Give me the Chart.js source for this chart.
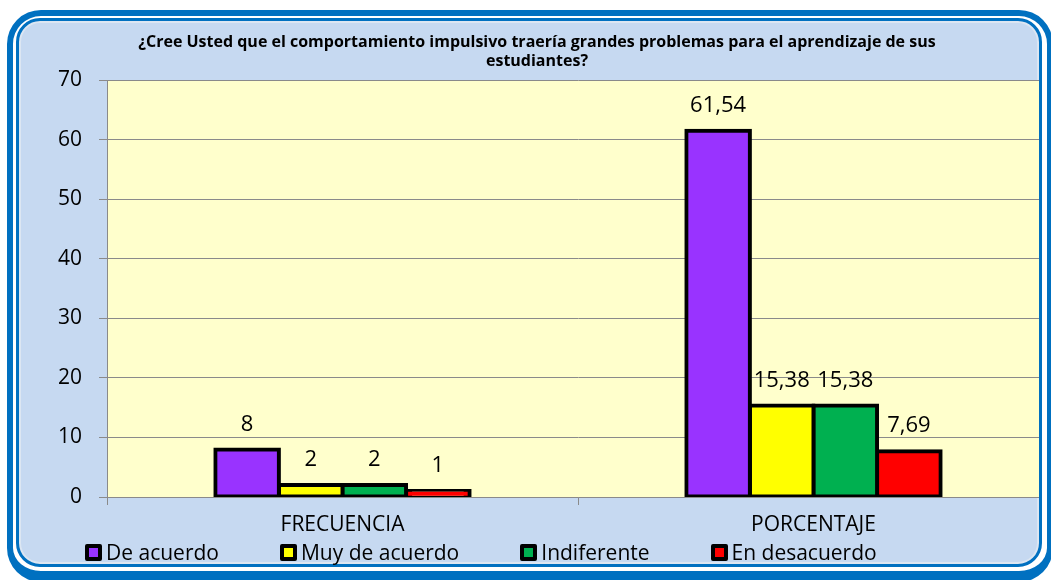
<!DOCTYPE html>
<html lang="es">
<head>
<meta charset="utf-8">
<title>Comportamiento impulsivo</title>
<script src="https://cdn.jsdelivr.net/npm/chart.js@4.4.1/dist/chart.umd.min.js"></script>
<style>
    html, body {
        margin: 0;
        padding: 0;
        background: #ffffff;
        overflow: hidden;
        width: 1051px;
        height: 580px;
        font-family: "Open Sans", "Noto Sans", sans-serif;
    }
    #frame {
        position: absolute;
        left: 7px;
        top: 10px;
        width: 1046px;
        height: 572px;
        border: 6px solid #0070C0;
        border-bottom-width: 11px;
        border-radius: 34px;
        box-sizing: border-box;
    }
    #inner {
        position: absolute;
        left: 16px;
        top: 18px;
        width: 1026px;
        height: 549px;
        border: 3px solid #0070C0;
        border-radius: 24px;
        box-sizing: border-box;
        background: #C6D9F1;
        box-shadow: inset 0 0 0 2px #DCE6F2;
    }
    #chartBox {
        position: absolute;
        left: 19px;
        top: 21px;
        width: 1020px;
        height: 541px;
        overflow: hidden;
    }
    #chartWrap {
        position: relative;
        width: 1030px;
        height: 541px;
    }
    #legend {
        position: absolute;
        left: 85px;
        top: 540px;
        height: 24px;
        display: flex;
        align-items: center;
        font-size: 21px;
        color: #000;
    }
    .legend-item {
        display: flex;
        align-items: center;
        margin-right: 61px;
    }
    .legend-box {
        width: 9px;
        height: 9px;
        border: 4px solid #000;
        border-radius: 2px;
        margin-right: 4px;
    }
</style>
</head>
<body>
<div id="frame"></div>
<div id="inner"></div>
<div id="chartBox"><div id="chartWrap"><canvas id="chart"></canvas></div></div>
<div id="legend"></div>

<script>
// Chart data
const categories = ['FRECUENCIA', 'PORCENTAJE'];
const seriesNames = ['De acuerdo', 'Muy de acuerdo', 'Indiferente', 'En desacuerdo'];
const deAcuerdo = [8, 61.54];
const muyDeAcuerdo = [2, 15.38];
const indiferente = [2, 15.38];
const enDesacuerdo = [1, 7.69];
const yTicks = [0, 10, 20, 30, 40, 50, 60, 70];
const titleLines = [
    '¿Cree Usted que el comportamiento impulsivo traería grandes problemas para el aprendizaje de sus',
    'estudiantes?'
];

const seriesColors = ['#9933FF', '#FFFF00', '#00B050', '#FF0000'];
const seriesValues = [deAcuerdo, muyDeAcuerdo, indiferente, enDesacuerdo];
const fontFamily = '"Open Sans", "Noto Sans", sans-serif';

// Yellow plot background
const plotBackground = {
    id: 'plotBackground',
    beforeDraw(chart) {
        const { ctx, chartArea } = chart;
        ctx.save();
        ctx.fillStyle = '#FFFFCC';
        ctx.fillRect(chartArea.left, chartArea.top, chartArea.right - chartArea.left, chartArea.bottom - chartArea.top);
        ctx.restore();
    }
};

// Value labels above bars, with decimal comma
const valueLabels = {
    id: 'valueLabels',
    afterDatasetsDraw(chart) {
        const ctx = chart.ctx;
        ctx.save();
        ctx.font = '22px ' + fontFamily;
        ctx.fillStyle = '#000';
        ctx.textAlign = 'center';
        ctx.textBaseline = 'middle';
        chart.data.datasets.forEach((ds, i) => {
            chart.getDatasetMeta(i).data.forEach((bar, j) => {
                const text = String(ds.data[j]).replace('.', ',');
                ctx.fillText(text, bar.x, bar.y - 25);
            });
        });
        ctx.restore();
    }
};

const ctx = document.getElementById('chart');
new Chart(ctx.getContext('2d'), {
    type: 'bar',
    data: {
        labels: categories,
        datasets: seriesNames.map((name, i) => ({
            label: name,
            data: seriesValues[i],
            backgroundColor: seriesColors[i],
            borderColor: '#000000',
            borderWidth: 4,
            borderSkipped: false,
            inflateAmount: 2,
            categoryPercentage: 0.54,
            barPercentage: 1
        }))
    },
    options: {
        responsive: true,
        maintainAspectRatio: false,
        animation: false,
        layout: {
            padding: { left: 6, right: 0, top: 0, bottom: 25 }
        },
        scales: {
            x: {
                grid: {
                    display: true,
                    drawOnChartArea: false,
                    drawTicks: true,
                    tickLength: 8,
                    color: '#8A8A8A'
                },
                border: { color: '#8A8A8A' },
                ticks: {
                    color: '#000',
                    padding: 7,
                    font: { family: fontFamily, size: 21 }
                },
                afterFit(scale) {
                    scale.height = 40;
                }
            },
            y: {
                min: 0,
                max: 70,
                afterBuildTicks(scale) {
                    scale.ticks = yTicks.map(v => ({ value: v }));
                },
                grid: {
                    color: '#8A8A8A',
                    drawTicks: true,
                    tickLength: 8
                },
                border: { color: '#8A8A8A' },
                ticks: {
                    color: '#000',
                    padding: 17,
                    font: { family: fontFamily, size: 21 }
                },
                afterFit(scale) {
                    scale.width = 82;
                }
            }
        },
        plugins: {
            legend: { display: false },
            tooltip: { enabled: false },
            title: {
                display: true,
                text: titleLines,
                color: '#000',
                font: { family: fontFamily, size: 16, weight: 'bold', lineHeight: 1.2 },
                padding: { top: 12, bottom: 9 }
            }
        }
    },
    plugins: [plotBackground, valueLabels]
});

// HTML legend built from the series names
const legend = document.getElementById('legend');
seriesNames.forEach((name, i) => {
    const item = document.createElement('div');
    item.className = 'legend-item';
    const box = document.createElement('span');
    box.className = 'legend-box';
    box.style.background = seriesColors[i];
    const label = document.createElement('span');
    label.textContent = name;
    item.appendChild(box);
    item.appendChild(label);
    legend.appendChild(item);
});
</script>
</body>
</html>
